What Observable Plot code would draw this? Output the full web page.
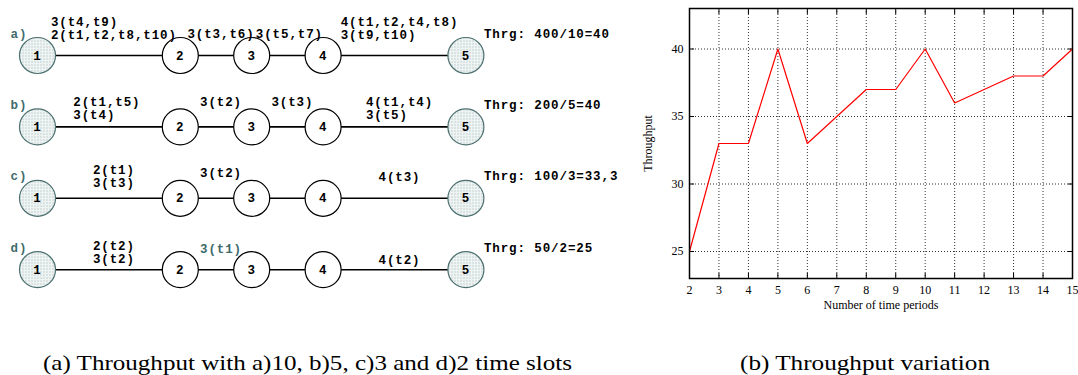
<!DOCTYPE html>
<html><head><meta charset="utf-8">
<script src="https://cdn.jsdelivr.net/npm/d3@7"></script>
<script src="https://cdn.jsdelivr.net/npm/@observablehq/plot@0.6"></script>
<style>
body{margin:0;background:#fff;}
#wrap{position:relative;width:1078px;height:375px;overflow:hidden;background:#fff;}
.cap{position:absolute;font-family:"Liberation Serif",serif;font-size:21.5px;color:#000;white-space:nowrap;line-height:1;transform-origin:0 0;}
</style></head><body>
<div id="wrap">
  <div id="diag" style="position:absolute;left:0;top:0"></div>
  <div id="chart" style="position:absolute;left:640px;top:0"></div>
  <span class="cap" id="capA" data-left="43" data-right="572">(a) Throughput with a)10, b)5, c)3 and d)2 time slots</span>
  <span class="cap" id="capB" data-left="740" data-right="990">(b) Throughput variation</span>
</div>
<script>
// ---------------- DATA ----------------
const rows = ["a)", "b)", "c)", "d)"];
const nodes = [1, 2, 3, 4, 5];
const throughputText = ["Thrg: 400/10=40", "Thrg: 200/5=40", "Thrg: 100/3=33,3", "Thrg: 50/2=25"];
// [row, link starting node, lines of text]
const linkLabels = [
  ["a)", 1, ["3(t4,t9)", "2(t1,t2,t8,t10)"]],
  ["a)", 2, ["3(t3,t6)"]],
  ["a)", 3, ["3(t5,t7)"]],
  ["a)", 4, ["4(t1,t2,t4,t8)", "3(t9,t10)"]],
  ["b)", 1, ["2(t1,t5)", "3(t4)"]],
  ["b)", 2, ["3(t2)"]],
  ["b)", 3, ["3(t3)"]],
  ["b)", 4, ["4(t1,t4)", "3(t5)"]],
  ["c)", 1, ["2(t1)", "3(t3)"]],
  ["c)", 2, ["3(t2)"]],
  ["c)", 4, ["4(t3)"]],
  ["d)", 1, ["2(t2)", "3(t2)"]],
  ["d)", 2, ["3(t1)"]],
  ["d)", 4, ["4(t2)"]]
];
const periods = [2, 3, 4, 5, 6, 7, 8, 9, 10, 11, 12, 13, 14, 15];
const throughput = [25, 33, 33, 40, 33, 35, 37, 37, 40, 36, 37, 38, 38, 40];
const yTicks = [25, 30, 35, 40];

// ---------------- LAYOUT (diagram) ----------------
const linkLength = [2, 1, 1, 2];              // relative lengths of links 1-2,2-3,3-4,4-5
const nodePos = [0];
linkLength.forEach(l => nodePos.push(nodePos[nodePos.length - 1] + l));
const U = 71.4;                                // px per unit
const W = 640, H = 300;
const x0 = 37, y0 = 55;
// per-label: vertical lift of first line (px), horizontal nudge (px), colour
const nudge = {
  "a)-1": [-34, 0], "a)-2": [-22, 0], "a)-3": [-22, -3], "a)-4": [-34, 0],
  "b)-1": [-25, -7], "b)-2": [-25, 0], "b)-3": [-25, 0], "b)-4": [-25, 0],
  "c)-1": [-28, 0], "c)-2": [-25, 0], "c)-4": [-21, 0],
  "d)-1": [-24, 0], "d)-2": [-21, 0, "#3e6b6b"], "d)-4": [-10, 0]
};
const lineGap = 13, charW = 8.4;
const teal = "#3e6b6b";
const monoFont = {fontFamily: "Liberation Mono", fontWeight: "bold", fontSize: 12.5};

const nodeData = rows.flatMap((r, ri) => nodes.map((n, ni) => ({row: r, ri, n, x: nodePos[ni], end: n === 1 || n === 5})));
const linkData = rows.flatMap((r, ri) => nodes.slice(0, -1).map((n, ni) => ({ri, x1: nodePos[ni], x2: nodePos[ni + 1]})));
const textData = linkLabels.flatMap(([r, from, lines]) => {
  const ri = rows.indexOf(r);
  const [lift, dx, color] = nudge[r + "-" + from];
  const mid = (nodePos[from - 1] + nodePos[from]) / 2;
  const maxLen = d3.max(lines, s => s.length);
  const xs = mid + (5 + dx - maxLen * charW / 2) / U;
  return lines.map((s, i) => ({text: s, x: xs, y: ri + (lift + i * lineGap) / U, color: color || "#000"}));
});
const rowLabelData = rows.map((r, ri) => ({text: r, ri}));
const thrData = throughputText.map((t, ri) => ({text: t, ri}));

const diag = Plot.plot({
  width: W, height: H,
  margin: 0,
  x: {domain: [-x0 / U, (W - x0) / U], range: [0, W], axis: null},
  y: {domain: [-y0 / U, (H - y0) / U], range: [0, H], axis: null},
  style: {background: "transparent", overflow: "visible", letterSpacing: "0.9px"},
  marks: [
    Plot.link(linkData, {x1: "x1", x2: "x2", y1: "ri", y2: "ri", stroke: "#000", strokeWidth: 1.6}),
    Plot.dot(nodeData, {x: "x", y: "ri", r: 18, fill: d => d.end ? "url(#dots)" : "#fff",
      stroke: d => d.end ? "#4d7070" : "#000", strokeWidth: 1.2}),
    Plot.text(nodeData, {x: "x", y: "ri", text: "n", ...monoFont, fill: "#000"}),
    Plot.text(textData, {x: "x", y: "y", text: "text", textAnchor: "start", lineAnchor: "middle", fill: "color", ...monoFont}),
    Plot.text(rowLabelData, {x: nodePos[0], y: "ri", dx: -27, dy: -22, text: "text", textAnchor: "start", lineAnchor: "middle",
      fill: teal, ...monoFont}),
    Plot.text(thrData, {x: nodePos[4], y: "ri", dx: 18, dy: -22, text: "text", textAnchor: "start", lineAnchor: "middle",
      fill: "#000", ...monoFont})
  ]
});
const ns = "http://www.w3.org/2000/svg";
const defs = document.createElementNS(ns, "defs");
defs.innerHTML = '<pattern id="dots" width="3" height="3" patternUnits="userSpaceOnUse"><rect width="3" height="3" fill="#eef3f3"/><rect x="1" y="1" width="1" height="1" fill="#9db0b0"/></pattern>';
diag.insertBefore(defs, diag.firstChild);
document.getElementById("diag").append(diag);

// ---------------- LINE CHART ----------------
const series = periods.map((p, i) => ({p, v: throughput[i]}));
const gridStyle = {stroke: "#333", strokeOpacity: 1, strokeWidth: 1, strokeDasharray: "1,2"};
const chart = Plot.plot({
  width: 438, height: 328,
  marginLeft: 49, marginRight: 6, marginTop: 8, marginBottom: 50,
  style: {fontFamily: "Liberation Serif", fontSize: "12px", background: "transparent", color: "#000"},
  x: {domain: [2, 15], label: null},
  y: {domain: [23, 43], label: null},
  marks: [
    Plot.gridX(periods, gridStyle),
    Plot.gridY(yTicks, gridStyle),
    Plot.axisX(periods, {anchor: "bottom", tickSize: -5, text: null, label: null, stroke: "#000"}),
    Plot.axisX(periods, {anchor: "top", tickSize: -5, text: null, label: null, stroke: "#000"}),
    Plot.axisY(yTicks, {anchor: "left", tickSize: -5, text: null, label: null, stroke: "#000"}),
    Plot.axisY(yTicks, {anchor: "right", tickSize: -5, text: null, label: null, stroke: "#000"}),
    Plot.axisX(periods, {tickSize: 0, tickPadding: 7, fontSize: 12, label: "Number of time periods",
      labelAnchor: "center", labelArrow: "none", labelOffset: 30}),
    Plot.axisY(yTicks, {tickSize: 0, tickPadding: 6, fontSize: 12, label: "Throughput",
      labelAnchor: "center", labelArrow: "none", labelOffset: 46}),
    Plot.line(series, {x: "p", y: "v", stroke: "#ff0000", strokeWidth: 1.2}),
    Plot.frame({stroke: "#000", strokeWidth: 1.5})
  ]
});
document.getElementById("chart").append(chart);

// ---------------- CAPTIONS (fit to measured span, baseline ~372) ----------------
for (const el of document.querySelectorAll(".cap")) {
  const left = +el.dataset.left, right = +el.dataset.right;
  const w = el.getBoundingClientRect().width;
  el.style.left = left + "px";
  el.style.top = (372 - 21.5 * 0.891) + "px";
  el.style.transform = `scaleX(${(right - left) / w})`;
}
</script>
</body></html>
